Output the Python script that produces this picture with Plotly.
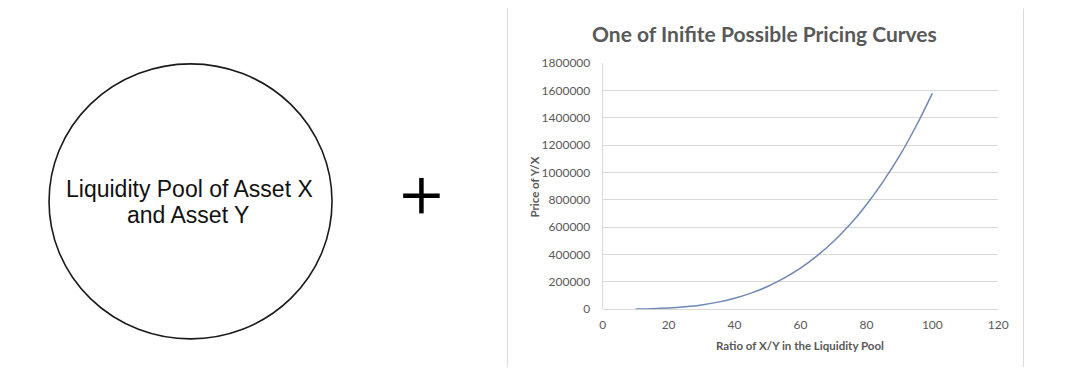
import plotly.graph_objects as go

# Page is 1080x375; the body keeps its default 8px margin, so the figure is 1064x359
PAGE_W, PAGE_H = 1080, 375
MARGIN = 8
W, H = PAGE_W - 2 * MARGIN, PAGE_H - 2 * MARGIN

# Data
ratio_xy = [10, 15, 20, 25, 30, 35, 40, 45, 50, 55, 60, 65, 70, 75, 80, 85, 90, 95, 100]
price_yx = [900, 3300, 8400, 17500, 31000, 52000, 80000, 118000, 166000, 227000,
            300000, 390000, 496000, 620000, 765000, 932000, 1120000, 1337000, 1580000]
x_ticks = [0, 20, 40, 60, 80, 100, 120]
y_ticks = [0, 200000, 400000, 600000, 800000, 1000000, 1200000, 1400000, 1600000, 1800000]

title_text = "One of Inifite Possible Pricing Curves"
x_title = "Ratio of X/Y in the Liquidity Pool"
y_title = "Price of Y/X"
pool_line1 = "Liquidity Pool of Asset X"
pool_line2 = "and Asset Y"


def px(x):
    """page pixel x -> paper fraction"""
    return (x - MARGIN) / W


def py(y):
    """page pixel y -> paper fraction"""
    return 1 - (y - MARGIN) / H


CHART_FONT = "Lato"
GRAY = "#595959"

fig = go.Figure()
fig.add_trace(go.Scatter(
    x=ratio_xy, y=price_yx, mode="lines",
    line=dict(color="#7088b5", width=1.5, shape="spline"),
    hoverinfo="x+y",
))

fig.update_layout(
    width=W, height=H,
    margin=dict(l=0, r=0, t=0, b=0),
    paper_bgcolor="white", plot_bgcolor="white",
    showlegend=False,
    xaxis=dict(
        domain=[px(607), px(1007.5)], range=[0, 120],
        tickvals=x_ticks, ticktext=[str(v) for v in x_ticks],
        showgrid=False, zeroline=False, showline=False,
        ticks="", ticklabelstandoff=7,
        tickfont=dict(family=CHART_FONT, size=12, color=GRAY),
        fixedrange=True,
    ),
    yaxis=dict(
        domain=[py(314), py(57.3)], range=[0, 1800000],
        tickvals=y_ticks, ticktext=[str(v) for v in y_ticks],
        showgrid=True, gridcolor="#d9d9d9", gridwidth=1,
        zeroline=True, zerolinecolor="#d9d9d9", zerolinewidth=1,
        showline=True, linecolor="#d9d9d9", linewidth=1,
        ticks="", ticklabelstandoff=9,
        tickfont=dict(family=CHART_FONT, size=12, color=GRAY),
        fixedrange=True,
    ),
    shapes=[
        # chart frame (left and right edges)
        dict(type="line", xref="paper", yref="paper",
             x0=px(510.5), x1=px(510.5), y0=py(376), y1=py(0),
             line=dict(color="#dcdcdc", width=1), layer="below"),
        dict(type="line", xref="paper", yref="paper",
             x0=px(1033), x1=px(1033), y0=py(376), y1=py(0),
             line=dict(color="#dcdcdc", width=1), layer="below"),
        # liquidity pool circle
        dict(type="circle", xref="paper", yref="paper",
             x0=px(46.5), x1=px(333), y0=py(345), y1=py(58),
             line=dict(color="#1a1a1a", width=1.6)),
        # plus sign
        dict(type="line", xref="paper", yref="paper",
             x0=px(405), x1=px(442), y0=py(195.5), y1=py(195.5),
             line=dict(color="black", width=4.5)),
        dict(type="line", xref="paper", yref="paper",
             x0=px(423.5), x1=px(423.5), y0=py(177), y1=py(214),
             line=dict(color="black", width=4.5)),
    ],
    annotations=[
        dict(text=pool_line1, xref="paper", yref="paper",
             x=px(188.8), y=py(189), xanchor="center", yanchor="middle",
             showarrow=False,
             font=dict(family="Liberation Sans", size=23, color="#111111")),
        dict(text=pool_line2, xref="paper", yref="paper",
             x=px(187.5), y=py(216), xanchor="center", yanchor="middle",
             showarrow=False,
             font=dict(family="Liberation Sans", size=23, color="#111111")),
        dict(text="<b>" + title_text + "</b>", xref="paper", yref="paper",
             x=px(771), y=py(26), xanchor="center", yanchor="middle",
             showarrow=False, font=dict(family=CHART_FONT, size=21, color=GRAY)),
        dict(text="<b>" + x_title + "</b>", xref="paper", yref="paper",
             x=px(807), y=py(352), xanchor="center", yanchor="middle",
             showarrow=False, font=dict(family=CHART_FONT, size=11.5, color=GRAY)),
        dict(text="<b>" + y_title + "</b>", xref="paper", yref="paper",
             x=px(538.5), y=py(187), xanchor="center", yanchor="middle",
             textangle=-90,
             showarrow=False, font=dict(family=CHART_FONT, size=11.5, color=GRAY)),
    ],
)

fig.write_html("out.html", config={"displayModeBar": False})
